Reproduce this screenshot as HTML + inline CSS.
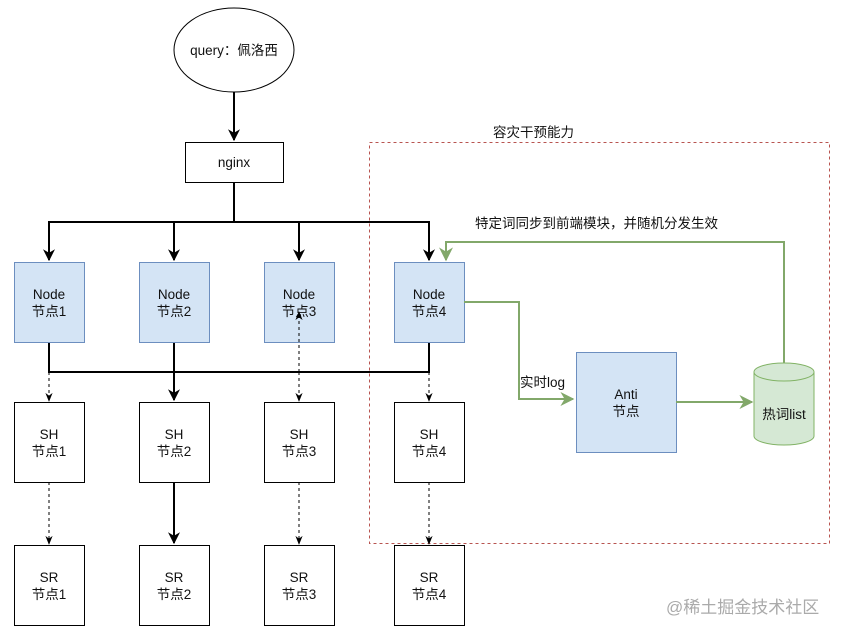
<!DOCTYPE html>
<html><head><meta charset="utf-8"><style>
body{margin:0;background:#fff;width:843px;height:637px;overflow:hidden}
svg text{font-family:"Liberation Sans","Noto Sans CJK SC",sans-serif;font-size:13.5px;fill:#111}
</style></head><body>
<svg width="843" height="637" viewBox="0 0 843 637">
<defs>
<marker id="ab" viewBox="0 0 10 10" refX="9" refY="5" markerWidth="6" markerHeight="6" orient="auto"><path d="M0,0L10,5L0,10L3,5z" fill="#000"/></marker>
<marker id="as" viewBox="0 0 10 10" refX="9" refY="5" markerWidth="9" markerHeight="9" orient="auto"><path d="M0,1L10,5L0,9L3,5z" fill="#000"/></marker>
<marker id="ag" viewBox="0 0 10 10" refX="9" refY="5" markerWidth="7" markerHeight="7" orient="auto"><path d="M0,0L10,5L0,10L3,5z" fill="#82a86a"/></marker>
</defs>
<rect x="369.5" y="142.5" width="460" height="401" fill="none" stroke="#b85450" stroke-dasharray="3,3"/>
<text x="493" y="137">容灾干预能力</text>
<ellipse cx="234" cy="50" rx="60" ry="42" fill="#fff" stroke="#000"/>
<text x="234" y="55" text-anchor="middle">query：佩洛西</text>
<line x1="234" y1="92" x2="234" y2="140" stroke="#000" stroke-width="2" marker-end="url(#ab)"/>
<rect x="185.5" y="142.5" width="98" height="40" fill="#fff" stroke="#000"/>
<text x="234" y="167" text-anchor="middle">nginx</text>
<g stroke="#000" stroke-width="2" fill="none">
<line x1="234" y1="183" x2="234" y2="222"/>
<polyline points="49,260 49,222 429,222 429,260"/>
<line x1="174" y1="222" x2="174" y2="260" marker-end="url(#ab)"/>
<line x1="299" y1="222" x2="299" y2="260" marker-end="url(#ab)"/>
<line x1="49" y1="222" x2="49" y2="260" marker-end="url(#ab)"/>
<line x1="429" y1="222" x2="429" y2="260" marker-end="url(#ab)"/>
<polyline points="49,342 49,372 429,372 429,342"/>
<line x1="174" y1="342" x2="174" y2="400" marker-end="url(#ab)"/>
<line x1="174" y1="482" x2="174" y2="543" marker-end="url(#ab)"/>
</g>
<g stroke="#000" stroke-width="1" stroke-dasharray="3,3" fill="none">
<line x1="49" y1="372" x2="49" y2="401" marker-end="url(#as)"/>
<line x1="299" y1="372" x2="299" y2="401" marker-end="url(#as)"/>
<line x1="429" y1="372" x2="429" y2="401" marker-end="url(#as)"/>
<line x1="49" y1="482" x2="49" y2="544" marker-end="url(#as)"/>
<line x1="299" y1="482" x2="299" y2="544" marker-end="url(#as)"/>
<line x1="429" y1="482" x2="429" y2="544" marker-end="url(#as)"/>
</g>
<g fill="#d4e4f5" stroke="#6c8ebf">
<rect x="14.5" y="262.5" width="70" height="80"/>
<rect x="139.5" y="262.5" width="70" height="80"/>
<rect x="264.5" y="262.5" width="70" height="80"/>
<rect x="394.5" y="262.5" width="70" height="80"/>
<rect x="576.5" y="352.5" width="100" height="100"/>
</g>
<g fill="#fff" stroke="#000">
<rect x="14.5" y="402.5" width="70" height="80"/><rect x="139.5" y="402.5" width="70" height="80"/>
<rect x="264.5" y="402.5" width="70" height="80"/><rect x="394.5" y="402.5" width="70" height="80"/>
<rect x="14.5" y="545.5" width="70" height="80"/><rect x="139.5" y="545.5" width="70" height="80"/>
<rect x="264.5" y="545.5" width="70" height="80"/><rect x="394.5" y="545.5" width="70" height="80"/>
</g>
<g text-anchor="middle">
<text x="49" y="299">Node</text><text x="49" y="316">节点1</text>
<text x="174" y="299">Node</text><text x="174" y="316">节点2</text>
<text x="299" y="299">Node</text><text x="299" y="316">节点3</text>
<text x="429" y="299">Node</text><text x="429" y="316">节点4</text>
<text x="49" y="439">SH</text><text x="49" y="456">节点1</text>
<text x="174" y="439">SH</text><text x="174" y="456">节点2</text>
<text x="299" y="439">SH</text><text x="299" y="456">节点3</text>
<text x="429" y="439">SH</text><text x="429" y="456">节点4</text>
<text x="49" y="582">SR</text><text x="49" y="599">节点1</text>
<text x="174" y="582">SR</text><text x="174" y="599">节点2</text>
<text x="299" y="582">SR</text><text x="299" y="599">节点3</text>
<text x="429" y="582">SR</text><text x="429" y="599">节点4</text>
<text x="626" y="399">Anti</text><text x="626" y="416">节点</text>
</g>
<line x1="299" y1="372" x2="299" y2="312" stroke="#000" stroke-width="1" stroke-dasharray="3,3" marker-end="url(#as)"/>
<g stroke="#82a86a" stroke-width="2" fill="none">
<polyline points="464,302 519,302 519,399 573,399" marker-end="url(#ag)"/>
<line x1="676" y1="402" x2="752" y2="402" marker-end="url(#ag)"/>
<polyline points="784,363 784,242 446,242 446,260" marker-end="url(#ag)"/>
</g>
<path d="M754,372 L754,436 A30,9 0 0 0 814,436 L814,372" fill="#d5e8d4" stroke="#82b366"/>
<ellipse cx="784" cy="372" rx="30" ry="9" fill="#d5e8d4" stroke="#82b366"/>
<text x="784" y="419" text-anchor="middle">热词list</text>
<text x="520" y="387">实时log</text>
<text x="475" y="228">特定词同步到前端模块，并随机分发生效</text>
<text x="666" y="613" style="fill:#aaa;font-size:17px">@稀土掘金技术社区</text>
</svg>
</body></html>
